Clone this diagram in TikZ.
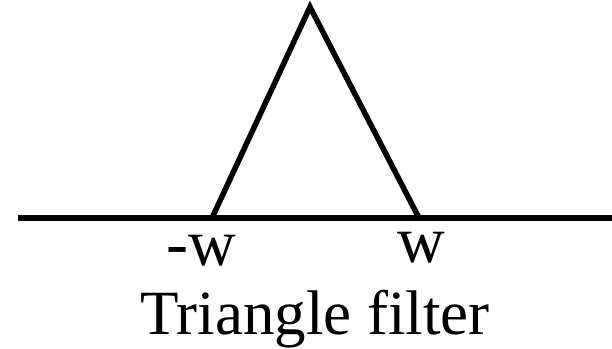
\documentclass[tikz,border=0pt]{standalone}
\usepackage{fontspec}
\setmainfont{Liberation Serif}
\begin{document}
\begin{tikzpicture}[x=1pt,y=-1pt,
  ln/.style={line width=5.5pt,line join=miter,line cap=butt},
  lbl/.style={font=\fontsize{66}{72}\selectfont,inner sep=0pt,anchor=base},
  ttl/.style={font=\fontsize{63}{70}\selectfont,inner sep=0pt,anchor=base}]
\useasboundingbox (0,0) rectangle (612,348);
\coordinate (L) at (18,218);
\coordinate (R) at (612,218);
\coordinate (A) at (212,218);
\coordinate (T) at (310,7);
\coordinate (B) at (419,218);
\draw[ln] (L) -- (R);
\draw[ln] (A) -- (T) -- (B);
\node[lbl] (mw) at (201,265) {-w};
\node[lbl] (pw) at (421,262) {w};
\node[ttl] (title) at (315,334) {Triangle filter};
\end{tikzpicture}
\end{document}
